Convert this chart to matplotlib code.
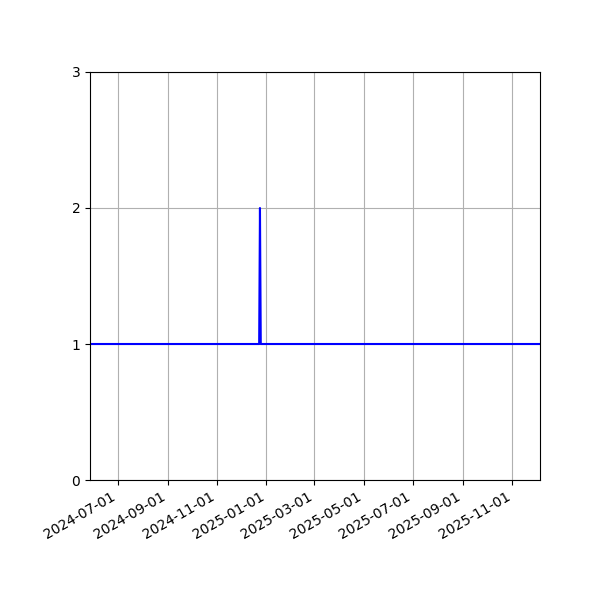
import numpy as np
import pandas as pd
import matplotlib
matplotlib.use("Agg")
import matplotlib.pyplot as plt
import matplotlib.dates as mdates

# data (daily series, constant 1 with one spike)
dates = pd.to_datetime(["2024-05-28", "2024-12-23", "2024-12-24",
                        "2024-12-25", "2025-12-05"])
values = [1, 1, 2, 1, 1]
yticks = [0, 1, 2, 3]

fig = plt.figure(figsize=(6, 6), dpi=100)
ax = fig.add_axes([0.15, 0.2, 0.75, 0.68])
ax.plot(dates, values, color="blue", linewidth=1.5)

ax.set_xlim(dates[0], dates[-1])
ax.set_ylim(0, 3)
ax.set_yticks(yticks)
ax.xaxis.set_major_locator(mdates.MonthLocator(bymonth=[1, 3, 5, 7, 9, 11]))
ax.xaxis.set_major_formatter(mdates.DateFormatter("%Y-%m-%d"))
ax.grid(True)

for lbl in ax.get_xticklabels():
    lbl.set_rotation(30)
    lbl.set_ha("right")

fig.savefig("out.png", dpi=100)
